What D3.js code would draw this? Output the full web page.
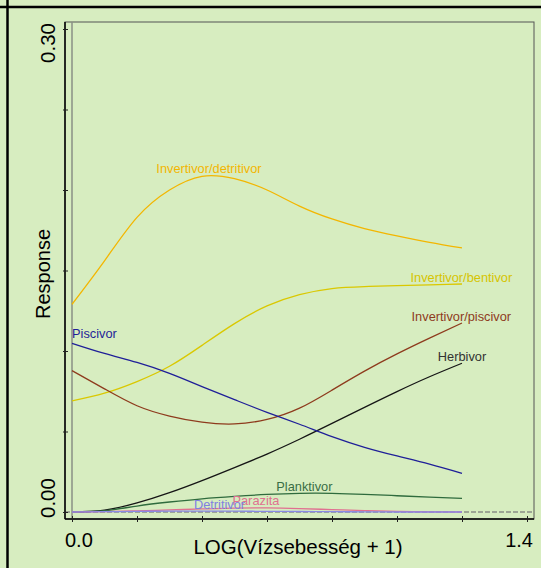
<!DOCTYPE html>
<html lang="en">
	<head>
		<meta charset="utf-8">
		<title>Response curves</title>
		<script type="text/javascript" src="https://d3js.org/d3.v7.min.js"></script>
		<style type="text/css">
			body { margin: 0; background: #d7edc0; }
			text { font-family: "Liberation Sans", Arial, sans-serif; }
		</style>
	</head>
	<body>
		<script type="text/javascript">

			//Width and height
			var w = 541;
			var h = 568;

			//Data: LOG(Vízsebesség + 1) grid and the fitted responses
			var xVals = [0, 0.1, 0.2, 0.3, 0.4, 0.5, 0.6, 0.7, 0.8, 0.9, 1.0, 1.1, 1.2];
			var invDetritivor = [0.129, 0.156, 0.183, 0.200, 0.2085, 0.207, 0.200, 0.190, 0.182, 0.176, 0.1715, 0.1675, 0.164];
			var invBentivor   = [0.069, 0.0738, 0.081, 0.0905, 0.1035, 0.117, 0.1280, 0.1350, 0.1388, 0.1400, 0.1406, 0.1411, 0.1416];
			var invPiscivor   = [0.0878, 0.0765, 0.066, 0.0596, 0.0558, 0.0547, 0.0575, 0.0645, 0.0757, 0.0875, 0.0982, 0.1080, 0.1174];
			var herbivor      = [0, 0.0012, 0.0056, 0.0120, 0.0195, 0.0276, 0.0360, 0.0452, 0.0550, 0.0650, 0.0748, 0.0840, 0.0924];
			var piscivor      = [0.1048, 0.0985, 0.0929, 0.0861, 0.0779, 0.0698, 0.0619, 0.0545, 0.0468, 0.0402, 0.0348, 0.0297, 0.024];
			var planktivor    = [0, 0.0008, 0.0037, 0.0062, 0.0082, 0.0097, 0.0109, 0.0116, 0.0116, 0.0110, 0.0101, 0.0092, 0.0085];
			var parazita      = [0, 0.0002, 0.0007, 0.0013, 0.0019, 0.0024, 0.0025, 0.0021, 0.0015, 0.0009, 0.0004, 0.0001, 0];
			var detritivor    = [0, 0.0002, 0.0004, 0.0005, 0.0005, 0.0005, 0.0004, 0.0003, 0.0002, 0.0001, 0, 0, 0];

			var seriesNames = ["Invertivor/detritivor", "Invertivor/bentivor", "Invertivor/piscivor", "Herbivor",
			                   "Piscivor", "Planktivor", "Parazita", "Detritivor"];
			var seriesVals = [invDetritivor, invBentivor, invPiscivor, herbivor, piscivor, planktivor, parazita, detritivor];
			var lineColors = ["#f3b600", "#dac800", "#8e3b1d", "#151515", "#1f1f98", "#2f6b3d", "#e07090", "#8a8ae6"];
			var labelColors = ["#f3b600", "#d6c400", "#8e3b1d", "#333333", "#1f1f98", "#3a6e45", "#e07090", "#8080e0"];
			//label anchors (data units: x, response)
			var labelX = [0.4215, 1.198, 1.198, 1.2, 0.069, 0.715, 0.566, 0.454];
			var labelY = [0.2106, 0.1429, 0.1186, 0.0938, 0.108, 0.013, 0.0043, 0.0019];

			var xTicks = [0, 0.2, 0.4, 0.6, 0.8, 1.0, 1.2, 1.4];
			var yTicks = [0, 0.05, 0.10, 0.15, 0.20, 0.25, 0.30];

			//Scales
			var xScale = d3.scaleLinear().domain([0, 1.4]).range([72, 527]);
			var yScale = d3.scaleLinear().domain([0, 0.30]).range([512, 29]);

			var svg = d3.select("body")
						.append("svg")
						.attr("width", w)
						.attr("height", h);

			//Outer frame lines
			svg.append("line").attr("x1", 0).attr("x2", w).attr("y1", 7).attr("y2", 7)
				.attr("stroke", "#000").attr("stroke-width", 2.5);
			svg.append("line").attr("x1", 7.5).attr("x2", 7.5).attr("y1", 0).attr("y2", h)
				.attr("stroke", "#000").attr("stroke-width", 2.5);

			//Plot box
			svg.append("rect")
				.attr("x", 65).attr("y", 22).attr("width", 469).attr("height", 497)
				.attr("fill", "none").attr("stroke", "#555").attr("stroke-width", 1);

			//Zero reference lines
			svg.append("line")
				.attr("x1", xScale(0)).attr("x2", xScale(0)).attr("y1", 22).attr("y2", 519)
				.attr("stroke", "#8a8f86").attr("stroke-width", 1.5);
			svg.append("line")
				.attr("x1", 65).attr("x2", 534).attr("y1", yScale(0)).attr("y2", yScale(0))
				.attr("stroke", "#8a8f86").attr("stroke-width", 1.5).attr("stroke-dasharray", "5,2");

			//Axes
			var xAxis = d3.axisBottom(xScale).tickValues(xTicks).tickSizeInner(3).tickSizeOuter(0).tickFormat("");
			var yAxis = d3.axisLeft(yScale).tickValues(yTicks).tickSizeInner(3).tickSizeOuter(0).tickFormat("");

			var gx = svg.append("g")
				.attr("transform", "translate(0,519)")
				.call(xAxis);
			gx.select(".domain").attr("d", "M65,0H534").attr("stroke", "#000").attr("stroke-width", 1.5);
			gx.selectAll(".tick line").attr("y1", -3).attr("stroke", "#222");

			var gy = svg.append("g")
				.attr("transform", "translate(65,0)")
				.call(yAxis);
			gy.select(".domain").attr("d", "M0,22V519").attr("stroke", "#000").attr("stroke-width", 1.5);
			gy.selectAll(".tick line").attr("x2", 3).attr("x1", -2).attr("stroke", "#222");

			//Tick labels (only the ends are labelled)
			svg.append("text").attr("x", 65).attr("y", 547).attr("font-size", 20).text("0.0");
			svg.append("text").attr("x", 533).attr("y", 547).attr("text-anchor", "end").attr("font-size", 20).text("1.4");
			svg.append("text").attr("transform", "translate(55,518) rotate(-90)")
				.attr("font-size", 20.5).text("0.00");
			svg.append("text").attr("transform", "translate(55,23) rotate(-90)")
				.attr("text-anchor", "end").attr("font-size", 20.5).text("0.30");

			//Axis titles
			svg.append("text").attr("x", 298).attr("y", 554).attr("text-anchor", "middle")
				.attr("font-size", 20.5).text("LOG(Vízsebesség + 1)");
			svg.append("text").attr("transform", "translate(50,274) rotate(-90)")
				.attr("text-anchor", "middle").attr("font-size", 20).text("Response");

			//Curves
			var line = d3.line()
				.x(function(d, i) { return xScale(xVals[i]); })
				.y(function(d) { return yScale(d); })
				.curve(d3.curveNatural);

			svg.selectAll("path.curve")
			   .data(seriesVals)
			   .enter()
			   .append("path")
			   .attr("class", "curve")
			   .attr("d", line)
			   .attr("fill", "none")
			   .attr("stroke", function(d, i) { return lineColors[i]; })
			   .attr("stroke-width", 1.3);

			//Curve labels
			svg.selectAll("text.lab")
			   .data(seriesNames)
			   .enter()
			   .append("text")
			   .attr("class", "lab")
			   .attr("x", function(d, i) { return xScale(labelX[i]); })
			   .attr("y", function(d, i) { return yScale(labelY[i]); })
			   .attr("text-anchor", "middle")
			   .attr("font-size", 12.8)
			   .attr("fill", function(d, i) { return labelColors[i]; })
			   .text(function(d) { return d; });

		</script>
	</body>
</html>
